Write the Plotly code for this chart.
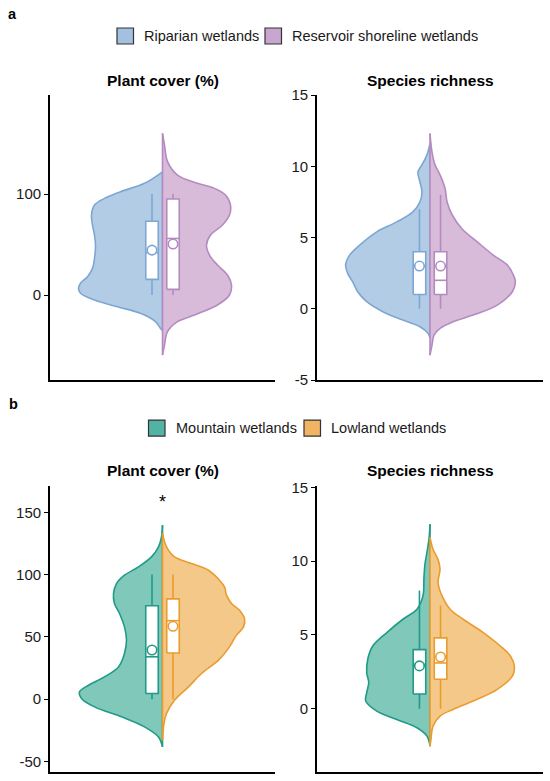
import plotly.graph_objects as go

# violin outlines: value (y) and half width (px) from the centre line
# (a) riparian vs reservoir shoreline
pc_rip_y = [122, 110.6, 102.3, 95.7, 89.1, 79.2, 69.3, 59.4, 49.5, 36.3, 26.4, 18.2, 11.6, 6.6, 1.7, -5, -11.6, -18.1, -26.4, -33, -35]
pc_rip_w = [0, 18, 42, 58, 68, 71, 70, 68, 67, 68, 70, 75, 82, 84, 82, 68, 45, 22, 7, 2, 0]
pc_res_y = [160, 148.5, 132, 118.8, 110.6, 105.6, 99, 89.1, 79.2, 69.3, 59.4, 49.5, 39.6, 29.7, 19.8, 9.9, 0, -9.9, -19.8, -26.4, -36.3, -49.5, -59.4]
pc_res_w = [0, 2, 5, 15, 35, 52, 63, 68, 67, 60, 48, 44, 47, 55, 65, 69, 67, 55, 32, 15, 5, 2, 0]
sr_rip_y = [11.6, 10.8, 10.1, 9.6, 8.9, 8.2, 7.5, 6.8, 6.1, 5.4, 4.47, 3.77, 3.07, 2.49, 1.9, 1.2, 0.5, -0.2, -0.79, -1.26, -1.72, -2.05]
sr_rip_w = [0, 3, 8, 12, 10, 8, 10, 17, 33, 53, 70, 80, 84, 82, 77, 72, 63, 47, 27, 10, 2, 0]
sr_res_y = [12.3, 11.0, 10.1, 9.4, 8.45, 7.5, 6.6, 5.6, 4.7, 3.77, 3.07, 2.37, 1.9, 1.2, 0.26, -0.44, -0.9, -1.37, -1.84, -2.54, -3.25]
sr_res_w = [0, 2, 5, 10, 15, 17, 22, 32, 47, 63, 77, 83, 85, 82, 67, 43, 23, 10, 4, 2, 0]
# (b) mountain vs lowland
pc_mou_y = [139.6, 130.3, 122.2, 114.2, 106.2, 99.5, 92.8, 84.8, 76.8, 68.8, 58.0, 47.4, 36.7, 25.9, 17.9, 11.2, 5.9, 0.6, -6.2, -14.2, -22.2, -30.3, -38.3]
pc_mou_w = [0, 1, 4, 11, 24, 38, 46, 49, 48, 43, 38, 36, 38, 44, 58, 74, 83, 81, 68, 41, 18, 4, 0]
pc_low_y = [133, 122.2, 114.2, 108.9, 103.5, 95.5, 90.1, 83.5, 76.8, 71.4, 64.8, 58.0, 51.4, 42.0, 31.3, 20.6, 9.9, -0.8, -11.5, -22.2, -32.9]
pc_low_w = [0, 4, 12, 29, 46, 57, 62, 64, 69, 77, 82, 81, 74, 67, 56, 39, 26, 12, 4, 1, 0]
sr_mou_y = [12.5, 11.5, 10.6, 9.8, 8.9, 7.64, 6.74, 6.06, 5.16, 4.25, 3.35, 2.44, 1.77, 1.09, 0.52, -0.16, -0.73, -1.29, -1.86, -2.54]
sr_mou_w = [0, 1, 3, 5, 6, 7, 13, 27, 43, 57, 62, 63, 61, 63, 64, 53, 33, 13, 3, 0]
sr_low_y = [11.6, 10.8, 10.1, 9.46, 8.55, 7.64, 6.74, 6.06, 5.16, 4.25, 3.57, 2.89, 2.21, 1.31, 0.52, -0.05, -0.5, -1.18, -2.08, -2.54]
sr_low_w = [0, 3, 8, 10, 8, 12, 20, 33, 53, 70, 80, 84, 82, 67, 43, 23, 10, 3, 1, 0]

# box stats: min, q1, median, q3, max, mean
pc_rip_box = [0, 15.5, 42, 73, 100, 44.5]
pc_res_box = [0, 5.6, 56, 95, 100, 50.5]
sr_rip_box = [0, 1, 3, 4, 7, 3.0]
sr_res_box = [0, 1, 2, 4, 8, 3.0]
pc_mou_box = [0, 4.5, 34, 75, 100, 39.5]
pc_low_box = [0, 37, 63, 80.5, 100, 58.5]
sr_mou_box = [0, 1, 3, 4, 8, 2.9]
sr_low_box = [0, 2, 3.1, 4.8, 7, 3.5]

groups_a = ["Riparian wetlands", "Reservoir shoreline wetlands"]
groups_b = ["Mountain wetlands", "Lowland wetlands"]
titles = ["Plant cover (%)", "Species richness"]
ticks_pc_a = [0, 100]
ticks_sr_a = [-5, 0, 5, 10, 15]
ticks_pc_b = [-50, 0, 50, 100, 150]
ticks_sr_b = [0, 5, 10, 15]

blue_l, blue_f, blue_k = "#7EA6D3", "#B3CCE6", "#A3C0E0"
purple_l, purple_f, purple_k = "#B48BC0", "#D7BBD9", "#C9A6CF"
teal_l, teal_f, teal_k = "#219A87", "#7FC8BA", "#52B3A5"
orange_l, orange_f, orange_k = "#EA9C2F", "#F3C889", "#F0B462"

W, H = 550, 781
FONT = "Arial, Liberation Sans, sans-serif"
LW = 1.6


def fy(p):
    # pixel row in the target picture -> paper fraction (screenshot squeezes rows a little)
    return 1 - ((p - 9) / 0.978) / H


fig = go.Figure()


def line(xs, ys, lc, ax, fill=None, fc=None, shape="linear"):
    fig.add_trace(go.Scatter(x=xs, y=ys, mode="lines", fill=fill, fillcolor=fc,
                             line=dict(color=lc, width=LW, shape=shape),
                             xaxis=ax[0], yaxis=ax[1], showlegend=False, hoverinfo="skip"))


def half_violin(ys, ws, side, lc, fc, ax):
    line([side * w for w in ws], ys, lc, ax, fill="toself", fc=fc, shape="spline")
    line([0, 0], [max(ys), min(ys)], lc, ax)


def box(stats, side, lc, ax, off=10.5, bw=12.5):
    lo, q1, med, q3, hi, mean = stats
    p = side * off
    line([p, p], [lo, hi], lc, ax)
    line([p - bw / 2, p + bw / 2, p + bw / 2, p - bw / 2, p - bw / 2],
         [q1, q1, q3, q3, q1], lc, ax, fill="toself", fc="white")
    line([p - bw / 2, p + bw / 2], [med, med], lc, ax)
    fig.add_trace(go.Scatter(x=[p], y=[mean], mode="markers",
                             marker=dict(size=9.5, color="white", line=dict(color=lc, width=LW)),
                             xaxis=ax[0], yaxis=ax[1], showlegend=False, hoverinfo="skip"))


panels = [
    (("x", "y"), pc_rip_y, pc_rip_w, pc_res_y, pc_res_w, pc_rip_box, pc_res_box, blue_l, blue_f, purple_l, purple_f),
    (("x2", "y2"), sr_rip_y, sr_rip_w, sr_res_y, sr_res_w, sr_rip_box, sr_res_box, blue_l, blue_f, purple_l, purple_f),
    (("x3", "y3"), pc_mou_y, pc_mou_w, pc_low_y, pc_low_w, pc_mou_box, pc_low_box, teal_l, teal_f, orange_l, orange_f),
    (("x4", "y4"), sr_mou_y, sr_mou_w, sr_low_y, sr_low_w, sr_mou_box, sr_low_box, teal_l, teal_f, orange_l, orange_f),
]
for ax, ly, lw, ry, rw, lb, rb, ll, lf, rl, rf in panels:
    half_violin(ly, lw, -1, ll, lf, ax)
    half_violin(ry, rw, 1, rl, rf, ax)
    box(lb, -1, ll, ax)
    box(rb, 1, rl, ax)

xl = [50 / W, 275 / W]
xr = [317 / W, 543 / W]
ytop = [fy(380), fy(95)]
ybot = [fy(772), fy(486)]

xcommon = dict(showline=True, linecolor="black", linewidth=1.8, showticklabels=False,
               ticks="", showgrid=False, zeroline=False, range=[-112.5, 112.5], fixedrange=True)
ycommon = dict(showline=True, linecolor="black", linewidth=1.8, ticks="outside", ticklen=4,
               tickwidth=1.2, tickcolor="black", showgrid=False, zeroline=False,
               tickfont=dict(size=15, color="#1a1a1a", family=FONT))


def yticks(vals):
    # plain hyphen minus as in the original
    return dict(tickvals=vals, ticktext=[str(v) for v in vals])


fig.update_layout(
    width=W, height=H,
    margin=dict(l=0, r=0, t=0, b=0),
    paper_bgcolor="white", plot_bgcolor="white",
    showlegend=False,
    font=dict(family=FONT, color="black"),
    xaxis=dict(domain=xl, anchor="y", **xcommon),
    yaxis=dict(domain=ytop, anchor="x", range=[-84.2, 198], **yticks(ticks_pc_a), **ycommon),
    xaxis2=dict(domain=xr, anchor="y2", **xcommon),
    yaxis2=dict(domain=ytop, anchor="x2", range=[-5, 15], **yticks(ticks_sr_a), **ycommon),
    xaxis3=dict(domain=xl, anchor="y3", **xcommon),
    yaxis3=dict(domain=ybot, anchor="x3", range=[-58.6, 171], **yticks(ticks_pc_b), **ycommon),
    xaxis4=dict(domain=xr, anchor="y4", **xcommon),
    yaxis4=dict(domain=ybot, anchor="x4", range=[-4.3, 15.08], **yticks(ticks_sr_b), **ycommon),
)

ann = []
# panel letters
ann.append(dict(text="<b>a</b>", x=6 / W, y=fy(14), xanchor="left", yanchor="middle"))
ann.append(dict(text="<b>b</b>", x=7 / W, y=fy(404), xanchor="left", yanchor="middle"))
for a in ann:
    a.update(xref="paper", yref="paper", showarrow=False, font=dict(size=14.5, family=FONT, color="black"))

# subplot titles
for dom, ty in [(xl, 80), (xr, 80), (xl, 470), (xr, 470)]:
    t = titles[0] if dom is xl else titles[1]
    ann.append(dict(text="<b>" + t + "</b>", x=(dom[0] + dom[1]) / 2, y=fy(ty),
                    xref="paper", yref="paper", xanchor="center", yanchor="middle",
                    showarrow=False, font=dict(size=15.5, family=FONT, color="black")))

# significance mark
ann.append(dict(text="*", x=0, y=158, xref="x3", yref="y3", showarrow=False,
                font=dict(size=18, family=FONT, color="black")))

# legends drawn by hand (ggplot-like key boxes)
shapes = []
legend_items = [
    (117, 36, blue_k, groups_a[0]), (265, 36, purple_k, groups_a[1]),
    (148.5, 428, teal_k, groups_b[0]), (304, 428, orange_k, groups_b[1]),
]
for x0, yc, fc, label in legend_items:
    shapes.append(dict(type="rect", xref="paper", yref="paper",
                       x0=x0 / W, x1=(x0 + 16.5) / W, y0=fy(yc + 8), y1=fy(yc - 8),
                       fillcolor=fc, line=dict(color="#333333", width=1.2)))
    ann.append(dict(text=label, x=(x0 + 25) / W, y=fy(yc), xref="paper", yref="paper",
                    xanchor="left", yanchor="middle", showarrow=False,
                    font=dict(size=14.5, family=FONT, color="#1a1a1a")))

fig.update_layout(annotations=ann, shapes=shapes)

# pin the 550x781 graph to the top-left corner of the window, nothing else on the page
pin = ("document.body.style.margin='0';document.body.style.overflow='hidden';"
       "var g=document.getElementsByClassName('plotly-graph-div')[0];"
       "g.style.position='fixed';g.style.left='0px';g.style.top='0px';")
fig.write_html("out.html", config={"displayModeBar": False}, post_script=pin)
